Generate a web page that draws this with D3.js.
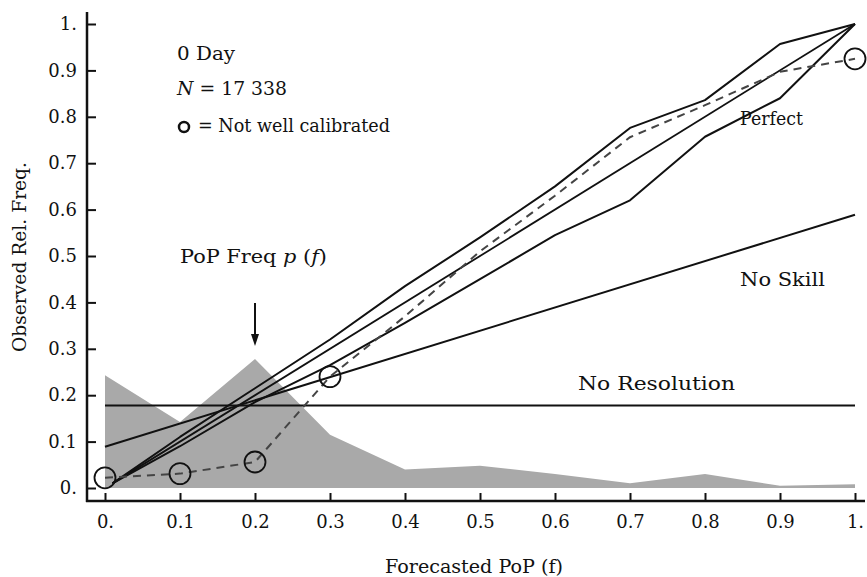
<!DOCTYPE html>
<html>
<head>
<meta charset="utf-8">
<script src="https://cdn.jsdelivr.net/npm/d3@7"></script>
<style>
  html, body { margin: 0; padding: 0; background: #fff; }
  svg { display: block; }
  text { font-family: "DejaVu Serif", "Liberation Serif", serif; fill: #111; }
</style>
</head>
<body>
<svg id="chart" width="867" height="577"></svg>
<script>
// Forecast probability bins
const forecastProbs = [0, 0.1, 0.2, 0.3, 0.4, 0.5, 0.6, 0.7, 0.8, 0.9, 1.0];
// Relative frequency of each forecast value (grey area)
const popFreq = [0.243, 0.142, 0.278, 0.115, 0.04, 0.048, 0.03, 0.01, 0.03, 0.005, 0.008];
// Observed relative frequency per bin (dashed reliability curve)
const observedFreq = [0.022, 0.031, 0.056, 0.24, 0.37, 0.51, 0.63, 0.756, 0.825, 0.897, 0.925];
// Bins flagged as not well calibrated (circled)
const notCalibrated = [true, true, true, true, false, false, false, false, false, false, true];
// Consistency bounds around the perfect-reliability diagonal
const boundProbs = [0.01, 0.1, 0.2, 0.3, 0.4, 0.5, 0.6, 0.7, 0.8, 0.9, 1.0];
const upperBound = [0.01, 0.11, 0.215, 0.32, 0.435, 0.54, 0.65, 0.776, 0.836, 0.957, 1.0];
const lowerBound = [0.01, 0.09, 0.185, 0.265, 0.356, 0.45, 0.545, 0.62, 0.757, 0.84, 1.0];
// Reference lines
const perfectProbs = [0.01, 1.0];
const perfectValues = [0.01, 1.0];
const climatology = 0.178;
const refProbs = [0, 1];
const noSkillValues = [0.089, 0.589];
// Axis tick labels
const tickValues = [0, 0.1, 0.2, 0.3, 0.4, 0.5, 0.6, 0.7, 0.8, 0.9, 1.0];
const tickLabels = ["0.", "0.1", "0.2", "0.3", "0.4", "0.5", "0.6", "0.7", "0.8", "0.9", "1."];

const svg = d3.select("#chart");
const x = d3.scaleLinear().domain([0, 1]).range([105, 855]);
const y = d3.scaleLinear().domain([0, 1]).range([488, 24]);
const fmt = v => tickLabels[tickValues.findIndex(t => Math.abs(t - v) < 1e-9)];

const line = d3.line().x(d => x(d[0])).y(d => y(d[1]));
const zip = (a, b) => a.map((v, i) => [v, b[i]]);

// Grey frequency area
svg.append("path")
  .datum(zip(forecastProbs, popFreq))
  .attr("fill", "#a9a9a9")
  .attr("d", d3.area().x(d => x(d[0])).y0(y(0)).y1(d => y(d[1])));

// No Resolution (climatology) line
svg.append("path")
  .datum(zip(refProbs, [climatology, climatology]))
  .attr("fill", "none").attr("stroke", "#111").attr("stroke-width", 2)
  .attr("d", line);

// No Skill line
svg.append("path")
  .datum(zip(refProbs, noSkillValues))
  .attr("fill", "none").attr("stroke", "#111").attr("stroke-width", 2)
  .attr("d", line);

// Perfect reliability diagonal
svg.append("path")
  .datum(zip(perfectProbs, perfectValues))
  .attr("fill", "none").attr("stroke", "#111").attr("stroke-width", 1.8)
  .attr("d", line);

// Upper and lower bounds
[upperBound, lowerBound].forEach(b => {
  svg.append("path")
    .datum(zip(boundProbs, b))
    .attr("fill", "none").attr("stroke", "#111").attr("stroke-width", 2)
    .attr("stroke-linejoin", "round")
    .attr("d", line);
});

// Observed reliability curve (dashed)
svg.append("path")
  .datum(zip(forecastProbs, observedFreq))
  .attr("fill", "none").attr("stroke", "#444").attr("stroke-width", 2)
  .attr("stroke-dasharray", "8,6")
  .attr("d", line);

// Circles on poorly calibrated bins
svg.selectAll("circle.flag")
  .data(zip(forecastProbs, observedFreq).filter((d, i) => notCalibrated[i]))
  .join("circle")
  .attr("class", "flag")
  .attr("cx", d => x(d[0])).attr("cy", d => y(d[1]))
  .attr("r", 10.5)
  .attr("fill", "none").attr("stroke", "#111").attr("stroke-width", 1.8);

// Axes
const yAxis = d3.axisLeft(y).tickValues(tickValues).tickFormat(fmt)
  .tickSizeInner(-9).tickSizeOuter(0).tickPadding(10);
const gy = svg.append("g").attr("transform", "translate(87,0)").call(yAxis);
gy.select(".domain").remove();
gy.selectAll(".tick line").attr("stroke", "#111").attr("stroke-width", 2);
gy.selectAll(".tick text").attr("font-size", 18).attr("font-family", "DejaVu Serif").attr("fill", "#111");

const xAxis = d3.axisBottom(x).tickValues(tickValues).tickFormat(fmt)
  .tickSizeInner(-8).tickSizeOuter(0).tickPadding(14);
const gx = svg.append("g").attr("transform", "translate(0,501)").call(xAxis);
gx.select(".domain").remove();
gx.selectAll(".tick line").attr("stroke", "#111").attr("stroke-width", 2);
gx.selectAll(".tick text").attr("font-size", 18).attr("font-family", "DejaVu Serif").attr("fill", "#111");

svg.append("line").attr("x1", 87).attr("x2", 87).attr("y1", 12).attr("y2", 502)
  .attr("stroke", "#111").attr("stroke-width", 2.5);
svg.append("line").attr("x1", 86).attr("x2", 865).attr("y1", 501).attr("y2", 501)
  .attr("stroke", "#111").attr("stroke-width", 2.5);

// Text helper: fixed width so the lettering keeps its wide set
const label = (xp, yp, width) => svg.append("text")
  .attr("x", xp).attr("y", yp).attr("font-size", 18)
  .attr("textLength", width).attr("lengthAdjust", "spacingAndGlyphs");

// Axis titles
label(385, 573, 178).text("Forecasted PoP (f)");
svg.append("text").attr("transform", "translate(26,352) rotate(-90)")
  .attr("font-size", 18).attr("textLength", 190).attr("lengthAdjust", "spacingAndGlyphs")
  .text("Observed Rel. Freq.");

// Header annotations
label(177, 60, 58).text("0 Day");
const nText = label(177, 95, 110);
nText.append("tspan").attr("font-style", "italic").text("N");
nText.append("tspan").text(" = 17 338");
svg.append("circle").attr("cx", 184).attr("cy", 127).attr("r", 5)
  .attr("fill", "none").attr("stroke", "#111").attr("stroke-width", 2.5);
label(198, 132, 192).text("= Not well calibrated");

// Frequency label with arrow
const pText = label(180, 263, 147);
pText.append("tspan").text("PoP Freq ");
pText.append("tspan").attr("font-style", "italic").text("p");
pText.append("tspan").text(" (");
pText.append("tspan").attr("font-style", "italic").text("f");
pText.append("tspan").text(")");
svg.append("line").attr("x1", x(0.2)).attr("x2", x(0.2)).attr("y1", 303).attr("y2", 336)
  .attr("stroke", "#111").attr("stroke-width", 2);
svg.append("path")
  .attr("d", `M${x(0.2) - 4},334 L${x(0.2) + 4},334 L${x(0.2)},346 Z`)
  .attr("fill", "#111");

// Reference line labels
label(740, 125, 63).text("Perfect");
label(740, 286, 85).text("No Skill");
label(578, 390, 157).text("No Resolution");
</script>
</body>
</html>
